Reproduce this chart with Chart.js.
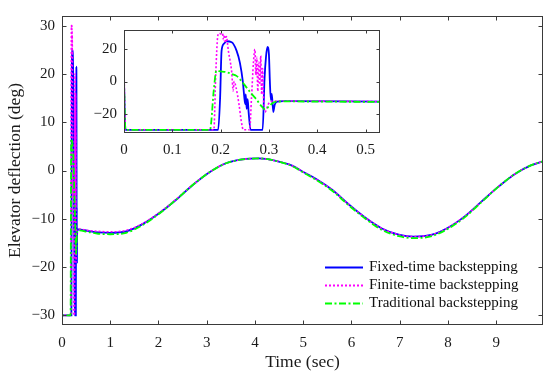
<!DOCTYPE html>
<html><head><meta charset="utf-8">
<script src="https://cdn.jsdelivr.net/npm/chart.js@4.4.1/dist/chart.umd.min.js"></script>
<style>
html,body{margin:0;padding:0;background:#fff;}
#wrap{position:relative;width:550px;height:380px;}
#main{position:absolute;left:0;top:0;}
#inset{position:absolute;left:90px;top:14px;}
</style></head><body>
<div id="wrap"><canvas id="main" width="550" height="380"></canvas><canvas id="inset" width="295" height="150"></canvas></div>
<script>
const seriesNames = ['Fixed-time backstepping', 'Finite-time backstepping', 'Traditional backstepping'];
const xTicksMain = [0, 1, 2, 3, 4, 5, 6, 7, 8, 9];
const yTicksMain = [-30, -20, -10, 0, 10, 20, 30];
const xTicksInset = [0, 0.1, 0.2, 0.3, 0.4, 0.5];
const yTicksInset = [-20, 0, 20];

// transient (t in sec, deflection in deg)
const fixedT = [0, 0.003, 0.195, 0.199, 0.202, 0.207, 0.212, 0.223, 0.233, 0.240, 0.246, 0.249, 0.251, 0.252, 0.254, 0.256, 0.258, 0.262, 0.287, 0.291, 0.294, 0.297, 0.300, 0.302, 0.304, 0.306, 0.309, 0.312, 0.317];
const fixedV = [0, -30, -30, -10, 19, 23.5, 25, 24.4, 19.2, 11.6, 0, -9.6, -14, -8, -17, -11, -19, -30, -30, 2, 15.4, 21.5, 17, 0, -11.5, -7.7, -19, -14.4, -12.5];

const finiteT = [0, 0.003, 0.186, 0.190, 0.194, 0.197, 0.201, 0.204, 0.206, 0.208, 0.210, 0.212, 0.216, 0.223, 0.226, 0.228, 0.232, 0.238, 0.243, 0.247, 0.260, 0.264, 0.268, 0.271, 0.273, 0.275, 0.277, 0.279, 0.281, 0.283, 0.285, 0.287, 0.289, 0.292, 0.299, 0.309];
const finiteV = [8.5, -30, -30, 5, 28, 30, 29.5, 30, 26, 29, 24, 28, 19.2, 5.8, -5.8, 0, -3.8, -14, -25, -30, -30, -10, 12, 20, 4, 15, -6, 12, -2, 16, -8, 8, -11, -19, -14, -12.2];

const tradT = [0, 0.003, 0.178, 0.186, 0.191, 0.200, 0.212, 0.222, 0.233, 0.244, 0.254, 0.265, 0.275, 0.285, 0.292, 0.300, 0.308, 0.316];
const tradV = [1, -30, -30, -5, 6.6, 6.3, 5.8, 4.8, 3.5, 0, -3.8, -8, -11.5, -15.5, -17.3, -15.5, -13.3, -12.5];

// slow response after transient
const smoothT = [0.33, 0.53, 0.75, 1.0, 1.33, 1.67, 2.02, 2.36, 2.71, 3.05, 3.4, 3.74, 4.08, 4.43, 4.77, 5.0, 5.26, 5.6, 5.94, 6.29, 6.63, 6.98, 7.29, 7.67, 8.01, 8.36, 8.7, 9.04, 9.39, 9.73, 9.97];
const fixedS = [-12.2, -12.5, -12.8, -12.9, -12.6, -11.1, -8.8, -6.1, -3.0, -0.4, 1.5, 2.3, 2.5, 2.0, 1.0, -0.3, -1.7, -4.0, -7.0, -9.8, -12.0, -13.3, -13.7, -13.3, -11.8, -9.4, -6.4, -3.4, -0.7, 1.1, 1.9];
const finiteS = [-12.1, -12.4, -12.6, -12.7, -12.4, -11.0, -8.7, -6.0, -3.0, -0.4, 1.5, 2.3, 2.5, 2.0, 1.0, -0.3, -1.8, -4.0, -7.0, -9.8, -12.0, -13.3, -13.7, -13.3, -11.8, -9.4, -6.4, -3.4, -0.7, 1.1, 1.9];
const tradS = [-12.4, -12.7, -13.1, -13.2, -12.9, -11.3, -8.9, -6.1, -3.0, -0.4, 1.5, 2.3, 2.5, 2.0, 0.9, -0.4, -1.9, -4.2, -7.2, -10.0, -12.3, -13.6, -14.0, -13.6, -12.0, -9.6, -6.5, -3.4, -0.7, 1.1, 1.9];

function pts(t, v, ts, vs) {
  const out = t.map((x, i) => ({x: x, y: v[i]}));
  return out.concat(ts.map((x, i) => ({x: x, y: vs[i]})));
}
const styles = [
  {color: '#0000ff', width: 1.8, dash: [], order: 2},
  {color: '#ff00ff', width: 1.6, dash: [2, 2], order: 1},
  {color: '#00ff00', width: 1.8, dash: [7, 2.5, 2, 2.5], order: 0}
];
const seriesData = [pts(fixedT, fixedV, smoothT, fixedS), pts(finiteT, finiteV, smoothT, finiteS), pts(tradT, tradV, smoothT, tradS)];
function makeDatasets() {
  return seriesNames.map((n, i) => ({
    label: n, data: seriesData[i], borderColor: styles[i].color, borderWidth: styles[i].width,
    borderDash: styles[i].dash, order: styles[i].order, pointRadius: 0, fill: false,
    cubicInterpolationMode: 'monotone', borderCapStyle: 'butt'
  }));
}
function fmt(v) {
  const s = String(Number(v.toFixed(2)));
  return v < 0 ? '\u2212' + s.replace('-', '') : s;
}
const FONT = "'Liberation Serif', 'Times New Roman', serif";

const framePlugin = {
  id: 'frame',
  beforeDraw(chart, args, opts) {
    if (opts.fill) {
      const a = chart.chartArea, ctx = chart.ctx;
      ctx.save(); ctx.fillStyle = '#fff';
      ctx.fillRect(a.left, a.top, a.right - a.left, a.bottom - a.top);
      ctx.restore();
    }
  },
  afterDraw(chart, args, opts) {
    const {ctx, chartArea: a, scales: {x, y}} = chart;
    const L = opts.len || 4;
    const l = Math.round(a.left) + 0.5, r = Math.round(a.right) - 0.5, t = Math.round(a.top) + 0.5, b = Math.round(a.bottom) - 0.5;
    ctx.save();
    ctx.strokeStyle = '#3a3a3a'; ctx.lineWidth = 1; ctx.setLineDash([]);
    ctx.strokeRect(l, t, r - l, b - t);
    ctx.beginPath();
    x.ticks.forEach(tk => {
      const px = Math.round(x.getPixelForValue(tk.value)) + 0.5;
      ctx.moveTo(px, b); ctx.lineTo(px, b - L);
      ctx.moveTo(px, t); ctx.lineTo(px, t + L);
    });
    y.ticks.forEach(tk => {
      const py = Math.round(y.getPixelForValue(tk.value)) + 0.5;
      ctx.moveTo(l, py); ctx.lineTo(l + L, py);
      ctx.moveTo(r, py); ctx.lineTo(r - L, py);
    });
    ctx.stroke();
    ctx.restore();
  }
};

const legendPlugin = {
  id: 'innerLegend',
  afterDraw(chart) {
    const ctx = chart.ctx;
    const rows = [267, 285, 303];
    ctx.save();
    ctx.font = '15px ' + FONT;
    ctx.textBaseline = 'middle';
    ctx.fillStyle = '#111';
    seriesNames.forEach((n, i) => {
      const st = styles[i];
      ctx.strokeStyle = st.color; ctx.lineWidth = st.width + 0.4; ctx.setLineDash(st.dash);
      ctx.beginPath(); ctx.moveTo(325, rows[i] + 0.5); ctx.lineTo(363, rows[i] + 0.5); ctx.stroke();
      ctx.fillText(n, 369, rows[i]);
    });
    ctx.restore();
  }
};

const gridOpts = {display: false, drawTicks: false, tickLength: 0};

new Chart(document.getElementById('main'), {
  type: 'line',
  data: {datasets: makeDatasets()},
  options: {
    responsive: false, animation: false, devicePixelRatio: 1,
    layout: {padding: {top: 11, right: 7, left: 0, bottom: 0}},
    plugins: {legend: {display: false}, tooltip: {enabled: false}, frame: {len: 4}},
    scales: {
      x: {
        type: 'linear', min: 0, max: 9.97,
        afterBuildTicks: s => { s.ticks = xTicksMain.map(v => ({value: v})); },
        afterFit: s => { s.height = 55; },
        grid: gridOpts, border: {display: false},
        ticks: {font: {family: FONT, size: 15}, color: '#1a1a1a', padding: 9, maxRotation: 0, callback: v => fmt(v)},
        title: {display: true, text: 'Time (sec)', font: {family: FONT, size: 17.5}, color: '#1a1a1a', padding: {top: 0, bottom: 7}}
      },
      y: {
        type: 'linear', min: -32, max: 32,
        afterBuildTicks: s => { s.ticks = yTicksMain.map(v => ({value: v})); },
        afterFit: s => { s.width = 62; },
        grid: gridOpts, border: {display: false},
        ticks: {font: {family: FONT, size: 15}, color: '#1a1a1a', padding: 7, callback: v => fmt(v)},
        title: {display: true, text: 'Elevator deflection (deg)', font: {family: FONT, size: 17.5}, color: '#1a1a1a', padding: {top: 5, bottom: 0}}
      }
    }
  },
  plugins: [framePlugin, legendPlugin]
});

new Chart(document.getElementById('inset'), {
  type: 'line',
  data: {datasets: makeDatasets()},
  options: {
    responsive: false, animation: false, devicePixelRatio: 1,
    layout: {padding: {top: 7, right: 5, left: 0, bottom: 0}},
    plugins: {legend: {display: false}, tooltip: {enabled: false}, frame: {len: 3, fill: true}},
    scales: {
      x: {
        type: 'linear', min: 0, max: 0.53,
        afterBuildTicks: s => { s.ticks = xTicksInset.map(v => ({value: v})); },
        afterFit: s => { s.height = 31; },
        grid: gridOpts, border: {display: false},
        ticks: {font: {family: FONT, size: 15}, color: '#1a1a1a', padding: 8, maxRotation: 0, callback: v => fmt(v)}
      },
      y: {
        type: 'linear', min: -32, max: 32,
        afterBuildTicks: s => { s.ticks = yTicksInset.map(v => ({value: v})); },
        afterFit: s => { s.width = 34; },
        grid: gridOpts, border: {display: false},
        ticks: {font: {family: FONT, size: 15}, color: '#1a1a1a', padding: 7, callback: v => fmt(v)}
      }
    }
  },
  plugins: [framePlugin]
});
</script>
</body></html>
